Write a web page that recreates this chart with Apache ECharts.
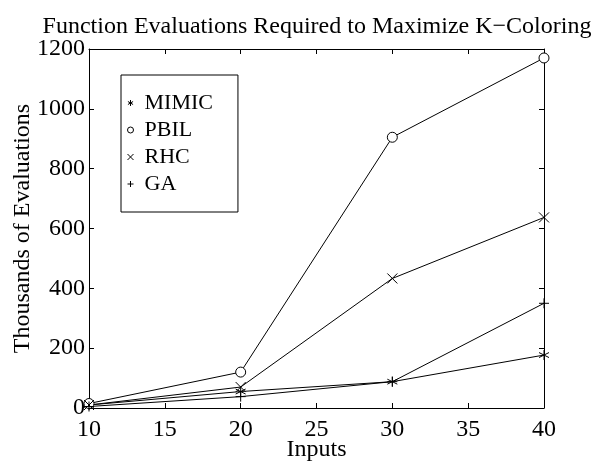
<!DOCTYPE html>
<html>
	<head>
		<meta charset="UTF-8">
		<title>K-Coloring</title>
		<script src="https://cdn.jsdelivr.net/npm/echarts@6/dist/echarts.min.js" type="text/javascript" charset="utf-8"></script>
	</head>
	<body style="margin:0;">
		<div id="main" style="width: 601px;height: 461px;"></div>
	</body>
	<script type="text/javascript">
var myChart = echarts.init(document.getElementById('main'));

var inputs = [10, 20, 30, 40];
var mimic = [10, 55, 88, 177];
var pbil = [15, 120, 905, 1170];
var rhc = [10, 70, 433, 637];
var ga = [5, 38, 88, 350];
var names = ['MIMIC', 'PBIL', 'RHC', 'GA'];

// matlab style markers
var starPath = 'path://M5,0L5,10M0.7,2.5L9.3,7.5M0.7,7.5L9.3,2.5';
var circlePath = 'path://M10,5A5,5 0 1 1 0,5A5,5 0 1 1 10,5Z';
var crossPath = 'path://M0,0L10,10M0,10L10,0';
var plusPath = 'path://M5,0L5,10M0,5L10,5';
var marks = [starPath, circlePath, crossPath, plusPath];
var fills = ['#000', '#fff', '#000', '#000'];

function pairs(vals) {
    var out = [];
    for (var i = 0; i < inputs.length; i++) {
        out.push([inputs[i], vals[i]]);
    }
    return out;
}

var font = '"Times New Roman", "Liberation Serif", serif';
var allVals = [mimic, pbil, rhc, ga];
var series = [];
for (var i = 0; i < names.length; i++) {
    series.push({
        name: names[i],
        type: 'line',
        data: pairs(allVals[i]),
        symbol: marks[i],
        symbolSize: 10,
        showSymbol: true,
        lineStyle: { color: '#000', width: 1 },
        itemStyle: { color: fills[i], borderColor: '#000', borderWidth: 1 },
        emphasis: { disabled: true },
        z: 3
    });
}

var xBase = {
    type: 'value', min: 10, max: 40, interval: 5,
    axisLine: { show: true, onZero: false, lineStyle: { color: '#000', width: 1 } },
    axisTick: { show: true, inside: true, length: 5, lineStyle: { color: '#000' } },
    splitLine: { show: false }
};
var yBase = {
    type: 'value', min: 0, max: 1200, interval: 200,
    axisLine: { show: true, onZero: false, lineStyle: { color: '#000', width: 1 } },
    axisTick: { show: true, inside: true, length: 5, lineStyle: { color: '#000' } },
    splitLine: { show: false }
};

option = {
    animation: false,
    backgroundColor: '#fff',
    textStyle: { fontFamily: font, color: '#000' },
    title: {
        text: 'Function Evaluations Required to Maximize K\u2212Coloring',
        left: 317,
        top: 15,
        padding: 0,
        textAlign: 'center',
        textStyle: { fontFamily: font, fontSize: 24, fontWeight: 'normal', color: '#000' }
    },
    grid: { left: 89, right: 57, top: 49, bottom: 53, containLabel: false, outerBoundsMode: 'none' },
    legend: {
        orient: 'vertical',
        left: 121,
        top: 75,
        padding: [17, 25, 17, 6],
        itemGap: 5,
        itemWidth: 18,
        itemHeight: 6,
        borderColor: '#000',
        borderWidth: 1,
        backgroundColor: '#fff',
        selectedMode: false,
        itemStyle: { borderWidth: 1 },
        textStyle: { fontFamily: font, fontSize: 22, color: '#000' },
        data: [
            { name: 'MIMIC', icon: starPath },
            { name: 'PBIL', icon: circlePath },
            { name: 'RHC', icon: crossPath },
            { name: 'GA', icon: plusPath }
        ]
    },
    xAxis: [
        Object.assign({}, xBase, {
            position: 'bottom',
            name: 'Inputs',
            nameLocation: 'middle',
            nameGap: 30,
            nameMoveOverlap: false,
            nameTextStyle: { fontFamily: font, fontSize: 24, color: '#000' },
            axisLabel: { margin: 10, fontFamily: font, fontSize: 24, color: '#000' }
        }),
        Object.assign({}, xBase, { position: 'top', axisLabel: { show: false } })
    ],
    yAxis: [
        Object.assign({}, yBase, {
            position: 'left',
            name: 'Thousands of Evaluations',
            nameLocation: 'middle',
            nameGap: 54,
            nameMoveOverlap: false,
            nameTextStyle: { fontFamily: font, fontSize: 24, color: '#000' },
            axisLabel: {
                margin: 4, fontFamily: font, fontSize: 24, color: '#000',
                formatter: function (v) { return String(v); }
            }
        }),
        Object.assign({}, yBase, { position: 'right', axisLabel: { show: false } })
    ],
    series: series
};
myChart.setOption(option);
	</script>
</html>
